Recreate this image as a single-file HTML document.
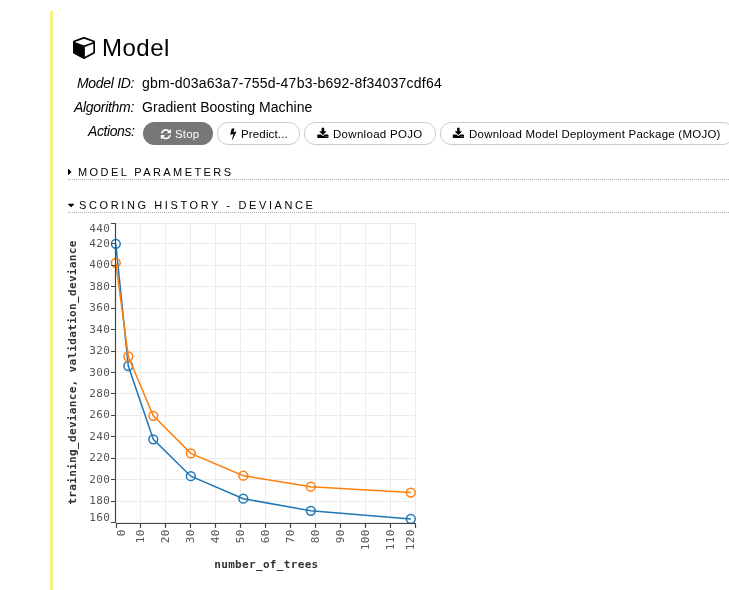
<!DOCTYPE html>
<html lang="en"><head><meta charset="utf-8"><title>Model</title>
<style>
html,body{margin:0;padding:0;background:#fff;}
body{width:729px;height:590px;overflow:hidden;position:relative;font-family:"Liberation Sans", sans-serif;color:#000;}
.abs{position:absolute;white-space:nowrap;}
.t{height:0;line-height:0;will-change:transform;}
h1,h4,dl,dt,dd,main{margin:0;padding:0;font:inherit;display:block;}
.btn{position:absolute;box-sizing:border-box;height:23px;top:122px;border-radius:11px;border:1px solid #ccc;background:#fff;margin:0;padding:0;font:inherit;color:inherit;overflow:visible;cursor:pointer;}
.dot{position:absolute;left:68px;right:0;height:0;border-top:1px dotted #b0b0b0;}
svg text{font-family:"DejaVu Sans Mono", "Liberation Mono", monospace;}
</style></head><body>

<main class="cell">
<div class="abs bar" style="left:50px;top:11px;width:3px;height:580px;background:#f9ef82"></div>
<h1><svg class="abs ico" aria-hidden="true" style="left:72px;top:34px" width="26" height="27"><g transform="translate(1.00 21.60) scale(0.01323 -0.01323)"><path fill="#000" d="M896 -93 1536 256V892L896 659ZM832 772 1530 1026 832 1280 134 1026ZM1664 1024V256Q1664 221 1646 191Q1628 161 1597 144L893 -240Q865 -256 832 -256Q799 -256 771 -240L67 144Q36 161 18 191Q0 221 0 256V1024Q0 1064 23 1097Q46 1130 84 1144L788 1400Q810 1408 832 1408Q854 1408 876 1400L1580 1144Q1618 1130 1641 1097Q1664 1064 1664 1024Z"/></g></svg><span class="abs t" id="h1" style="left:102.3px;top:47.68px;font-size:24px;letter-spacing:0.5px;">Model</span></h1>
<dl>
<dt class="abs t" id="l1" style="right:595px;top:83.15px;font-size:14px;letter-spacing:-0.3px;font-style:italic;">Model ID:</dt>
<dd class="abs t" id="v1" style="left:142.2px;top:83.15px;font-size:14px;letter-spacing:0.22px;">gbm-d03a63a7-755d-47b3-b692-8f34037cdf64</dd>
<dt class="abs t" id="l2" style="right:595px;top:107.15px;font-size:14px;letter-spacing:-0.3px;font-style:italic;">Algorithm:</dt>
<dd class="abs t" id="v2" style="left:142.2px;top:107.15px;font-size:14px;letter-spacing:0.06px;">Gradient Boosting Machine</dd>
<dt class="abs t" id="l3" style="right:595px;top:131.15px;font-size:14px;letter-spacing:-0.42px;font-style:italic;">Actions:</dt>
<dd class="actions">
<button type="button" class="btn" style="left:143px;width:70px;background:#777;border-color:#777;"><svg class="abs ico" aria-hidden="true" style="left:15px;top:4px" width="14" height="15"><g transform="translate(1.80 11.50) scale(0.00670 -0.00670)"><path fill="#fff" d="M1511 480Q1511 475 1510 473Q1446 205 1242 38.5Q1038 -128 764 -128Q618 -128 481.5 -73Q345 -18 238 84L109 -45Q90 -64 64 -64Q38 -64 19 -45Q0 -26 0 0V448Q0 474 19 493Q38 512 64 512H512Q538 512 557 493Q576 474 576 448Q576 422 557 403L420 266Q491 200 581 164Q671 128 768 128Q902 128 1018 193Q1134 258 1204 372Q1215 389 1257 489Q1265 512 1287 512H1479Q1492 512 1501.5 502.5Q1511 493 1511 480ZM1536 1280V832Q1536 806 1517 787Q1498 768 1472 768H1024Q998 768 979 787Q960 806 960 832Q960 858 979 877L1117 1015Q969 1152 768 1152Q634 1152 518 1087Q402 1022 332 908Q321 891 279 791Q271 768 249 768H50Q37 768 27.5 777.5Q18 787 18 800V807Q83 1075 288 1241.5Q493 1408 768 1408Q914 1408 1052 1352.5Q1190 1297 1297 1196L1427 1325Q1446 1344 1472 1344Q1498 1344 1517 1325Q1536 1306 1536 1280Z"/></g></svg><span class="abs t" id="b1" style="left:31.4px;top:11.02px;font-size:11.5px;letter-spacing:0.15px;color:#fff;">Stop</span></button>
<button type="button" class="btn" style="left:217px;width:83px;"><svg class="abs ico" aria-hidden="true" style="left:11px;top:3px" width="9" height="15"><g transform="translate(1.30 12.00) scale(0.00670 -0.00670)"><path fill="#000" d="M885 970Q903 950 892 926L352 -231Q339 -256 310 -256Q306 -256 296 -254Q279 -249 270.5 -235Q262 -221 266 -205L463 603L57 502Q53 501 45 501Q27 501 14 512Q-4 527 1 551L202 1376Q206 1390 218 1399Q230 1408 246 1408H574Q593 1408 606 1395.5Q619 1383 619 1366Q619 1358 614 1348L443 885L839 983Q847 985 851 985Q870 985 885 970Z"/></g></svg><span class="abs t" id="b2" style="left:22.64px;top:11.02px;font-size:11.5px;letter-spacing:0.15px;">Predict...</span></button>
<button type="button" class="btn" style="left:304px;width:132px;"><svg class="abs ico" aria-hidden="true" style="left:11px;top:3px" width="15" height="15"><g transform="translate(1.30 12.00) scale(0.00670 -0.00670)"><path fill="#000" d="M1261 147Q1280 166 1280 192Q1280 218 1261 237Q1242 256 1216 256Q1190 256 1171 237Q1152 218 1152 192Q1152 166 1171 147Q1190 128 1216 128Q1242 128 1261 147ZM1517 147Q1536 166 1536 192Q1536 218 1517 237Q1498 256 1472 256Q1446 256 1427 237Q1408 218 1408 192Q1408 166 1427 147Q1446 128 1472 128Q1498 128 1517 147ZM1664 416V96Q1664 56 1636 28Q1608 0 1568 0H96Q56 0 28 28Q0 56 0 96V416Q0 456 28 484Q56 512 96 512H561L696 376Q754 320 832 320Q910 320 968 376L1104 512H1568Q1608 512 1636 484Q1664 456 1664 416ZM1339 985Q1356 944 1325 915L877 467Q859 448 832 448Q805 448 787 467L339 915Q308 944 325 985Q342 1024 384 1024H640V1472Q640 1498 659 1517Q678 1536 704 1536H960Q986 1536 1005 1517Q1024 1498 1024 1472V1024H1280Q1322 1024 1339 985Z"/></g></svg><span class="abs t" id="b3" style="left:28.0px;top:11.02px;font-size:11.5px;letter-spacing:0.3px;">Download POJO</span></button>
<button type="button" class="btn" style="left:440px;width:294px;"><svg class="abs ico" aria-hidden="true" style="left:10px;top:3px" width="15" height="15"><g transform="translate(1.80 12.00) scale(0.00670 -0.00670)"><path fill="#000" d="M1261 147Q1280 166 1280 192Q1280 218 1261 237Q1242 256 1216 256Q1190 256 1171 237Q1152 218 1152 192Q1152 166 1171 147Q1190 128 1216 128Q1242 128 1261 147ZM1517 147Q1536 166 1536 192Q1536 218 1517 237Q1498 256 1472 256Q1446 256 1427 237Q1408 218 1408 192Q1408 166 1427 147Q1446 128 1472 128Q1498 128 1517 147ZM1664 416V96Q1664 56 1636 28Q1608 0 1568 0H96Q56 0 28 28Q0 56 0 96V416Q0 456 28 484Q56 512 96 512H561L696 376Q754 320 832 320Q910 320 968 376L1104 512H1568Q1608 512 1636 484Q1664 456 1664 416ZM1339 985Q1356 944 1325 915L877 467Q859 448 832 448Q805 448 787 467L339 915Q308 944 325 985Q342 1024 384 1024H640V1472Q640 1498 659 1517Q678 1536 704 1536H960Q986 1536 1005 1517Q1024 1498 1024 1472V1024H1280Q1322 1024 1339 985Z"/></g></svg><span class="abs t" id="b4" style="left:27.98px;top:11.02px;font-size:11.5px;letter-spacing:0.235px;">Download Model Deployment Package (MOJO)</span></button>
</dd></dl>
<h4><svg class="abs ico" aria-hidden="true" style="left:67px;top:165px" width="7" height="14"><g transform="translate(1.00 10.70) scale(0.00586 -0.00586)"><path fill="#000" d="M557 595 109 147Q90 128 64 128Q38 128 19 147Q0 166 0 192V1088Q0 1114 19 1133Q38 1152 64 1152Q90 1152 109 1133L557 685Q576 666 576 640Q576 614 557 595Z"/></g></svg><span class="abs t" id="s1" style="left:77.74px;top:172.19px;font-size:11px;letter-spacing:2.42px;">MODEL PARAMETERS</span><i class="dot" style="top:179px"></i></h4>
<h4><svg class="abs ico" aria-hidden="true" style="left:67px;top:199px" width="9" height="14"><g transform="translate(1.10 10.10) scale(0.00586 -0.00586)"><path fill="#000" d="M1005 787 557 339Q538 320 512 320Q486 320 467 339L19 787Q0 806 0 832Q0 858 19 877Q38 896 64 896H960Q986 896 1005 877Q1024 858 1024 832Q1024 806 1005 787Z"/></g></svg><span class="abs t" id="s2" style="left:79.46px;top:205.19px;font-size:11px;letter-spacing:2.61px;">SCORING HISTORY - DEVIANCE</span><i class="dot" style="top:212px"></i></h4>
<svg class="abs chart" role="img" style="left:0;top:0" width="729" height="590" viewBox="0 0 729 590">
<path d="M115.5 223.0V522.5M140.5 223.0V522.5M165.5 223.0V522.5M190.5 223.0V522.5M215.5 223.0V522.5M240.5 223.0V522.5M265.5 223.0V522.5M290.5 223.0V522.5M315.5 223.0V522.5M340.5 223.0V522.5M365.5 223.0V522.5M390.5 223.0V522.5M415.5 223.0V522.5M115.5 522.5H415.5M115.5 501.5H415.5M115.5 479.5H415.5M115.5 458.5H415.5M115.5 436.5H415.5M115.5 415.5H415.5M115.5 393.5H415.5M115.5 372.5H415.5M115.5 351.5H415.5M115.5 329.5H415.5M115.5 308.5H415.5M115.5 286.5H415.5M115.5 265.5H415.5M115.5 243.5H415.5M115.5 223.5H415.5" stroke="#ececec" stroke-width="1" fill="none"/>
<path d="M115.8 243.8L128.3 366.0L153.3 439.3L190.8 476.2L243.3 498.7L310.8 510.8L410.8 519.0" stroke="#1f77b4" stroke-width="1.5" fill="none"/>
<circle cx="115.8" cy="243.8" r="4.4" stroke="#1f77b4" stroke-width="1.5" fill="none"/>
<circle cx="128.3" cy="366.0" r="4.4" stroke="#1f77b4" stroke-width="1.5" fill="none"/>
<circle cx="153.3" cy="439.3" r="4.4" stroke="#1f77b4" stroke-width="1.5" fill="none"/>
<circle cx="190.8" cy="476.2" r="4.4" stroke="#1f77b4" stroke-width="1.5" fill="none"/>
<circle cx="243.3" cy="498.7" r="4.4" stroke="#1f77b4" stroke-width="1.5" fill="none"/>
<circle cx="310.8" cy="510.8" r="4.4" stroke="#1f77b4" stroke-width="1.5" fill="none"/>
<circle cx="410.8" cy="519.0" r="4.4" stroke="#1f77b4" stroke-width="1.5" fill="none"/>
<path d="M115.8 262.9L128.3 356.5L153.3 415.8L190.8 453.4L243.3 475.7L310.8 486.7L410.8 492.6" stroke="#ff7f0e" stroke-width="1.5" fill="none"/>
<circle cx="115.8" cy="262.9" r="4.4" stroke="#ff7f0e" stroke-width="1.5" fill="none"/>
<circle cx="128.3" cy="356.5" r="4.4" stroke="#ff7f0e" stroke-width="1.5" fill="none"/>
<circle cx="153.3" cy="415.8" r="4.4" stroke="#ff7f0e" stroke-width="1.5" fill="none"/>
<circle cx="190.8" cy="453.4" r="4.4" stroke="#ff7f0e" stroke-width="1.5" fill="none"/>
<circle cx="243.3" cy="475.7" r="4.4" stroke="#ff7f0e" stroke-width="1.5" fill="none"/>
<circle cx="310.8" cy="486.7" r="4.4" stroke="#ff7f0e" stroke-width="1.5" fill="none"/>
<circle cx="410.8" cy="492.6" r="4.4" stroke="#ff7f0e" stroke-width="1.5" fill="none"/>
<path d="M111.0 223.5H115.5V522.5H111.0M111.0 501.50H115.5M111.0 479.50H115.5M111.0 458.50H115.5M111.0 436.50H115.5M111.0 415.50H115.5M111.0 393.50H115.5M111.0 372.50H115.5M111.0 351.50H115.5M111.0 329.50H115.5M111.0 308.50H115.5M111.0 286.50H115.5M111.0 265.50H115.5M111.0 243.50H115.5" stroke="#444" stroke-width="1.2" fill="none"/>
<path d="M116.5 528.0V523.5H415.5V528.0M140.50 523.5V528.0M165.50 523.5V528.0M190.50 523.5V528.0M215.50 523.5V528.0M240.50 523.5V528.0M265.50 523.5V528.0M290.50 523.5V528.0M315.50 523.5V528.0M340.50 523.5V528.0M365.50 523.5V528.0M390.50 523.5V528.0" stroke="#444" stroke-width="1.2" fill="none"/>
<text x="110.2" y="520.50" text-anchor="end" font-size="11" fill="#555" letter-spacing="0.33">160</text>
<text x="110.2" y="504.07" text-anchor="end" font-size="11" fill="#555" letter-spacing="0.33">180</text>
<text x="110.2" y="482.64" text-anchor="end" font-size="11" fill="#555" letter-spacing="0.33">200</text>
<text x="110.2" y="461.21" text-anchor="end" font-size="11" fill="#555" letter-spacing="0.33">220</text>
<text x="110.2" y="439.79" text-anchor="end" font-size="11" fill="#555" letter-spacing="0.33">240</text>
<text x="110.2" y="418.36" text-anchor="end" font-size="11" fill="#555" letter-spacing="0.33">260</text>
<text x="110.2" y="396.93" text-anchor="end" font-size="11" fill="#555" letter-spacing="0.33">280</text>
<text x="110.2" y="375.50" text-anchor="end" font-size="11" fill="#555" letter-spacing="0.33">300</text>
<text x="110.2" y="354.07" text-anchor="end" font-size="11" fill="#555" letter-spacing="0.33">320</text>
<text x="110.2" y="332.64" text-anchor="end" font-size="11" fill="#555" letter-spacing="0.33">340</text>
<text x="110.2" y="311.21" text-anchor="end" font-size="11" fill="#555" letter-spacing="0.33">360</text>
<text x="110.2" y="289.79" text-anchor="end" font-size="11" fill="#555" letter-spacing="0.33">380</text>
<text x="110.2" y="268.36" text-anchor="end" font-size="11" fill="#555" letter-spacing="0.33">400</text>
<text x="110.2" y="246.93" text-anchor="end" font-size="11" fill="#555" letter-spacing="0.33">420</text>
<text x="110.2" y="231.90" text-anchor="end" font-size="11" fill="#555" letter-spacing="0.33">440</text>
<text transform="translate(124.50 529.3) rotate(-90)" text-anchor="end" font-size="11" fill="#555" letter-spacing="0.33">0</text>
<text transform="translate(144.00 529.3) rotate(-90)" text-anchor="end" font-size="11" fill="#555" letter-spacing="0.33">10</text>
<text transform="translate(169.00 529.3) rotate(-90)" text-anchor="end" font-size="11" fill="#555" letter-spacing="0.33">20</text>
<text transform="translate(194.00 529.3) rotate(-90)" text-anchor="end" font-size="11" fill="#555" letter-spacing="0.33">30</text>
<text transform="translate(219.00 529.3) rotate(-90)" text-anchor="end" font-size="11" fill="#555" letter-spacing="0.33">40</text>
<text transform="translate(244.00 529.3) rotate(-90)" text-anchor="end" font-size="11" fill="#555" letter-spacing="0.33">50</text>
<text transform="translate(269.00 529.3) rotate(-90)" text-anchor="end" font-size="11" fill="#555" letter-spacing="0.33">60</text>
<text transform="translate(294.00 529.3) rotate(-90)" text-anchor="end" font-size="11" fill="#555" letter-spacing="0.33">70</text>
<text transform="translate(319.00 529.3) rotate(-90)" text-anchor="end" font-size="11" fill="#555" letter-spacing="0.33">80</text>
<text transform="translate(344.00 529.3) rotate(-90)" text-anchor="end" font-size="11" fill="#555" letter-spacing="0.33">90</text>
<text transform="translate(369.00 529.3) rotate(-90)" text-anchor="end" font-size="11" fill="#555" letter-spacing="0.33">100</text>
<text transform="translate(394.00 529.3) rotate(-90)" text-anchor="end" font-size="11" fill="#555" letter-spacing="0.33">110</text>
<text transform="translate(413.60 529.3) rotate(-90)" text-anchor="end" font-size="11" fill="#555" letter-spacing="0.33">120</text>
<text x="266.4" y="567.8" text-anchor="middle" font-size="11" font-weight="bold" fill="#333" letter-spacing="0.33">number_of_trees</text>
<text transform="translate(76.2 372.5) rotate(-90)" text-anchor="middle" font-size="11" font-weight="bold" fill="#333" letter-spacing="0.33">training_deviance, validation_deviance</text>
</svg>
</main></body></html>
